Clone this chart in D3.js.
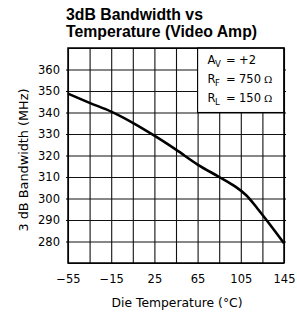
<!DOCTYPE html>
<html lang="en">
<head>
<meta charset="UTF-8" />
<title>3dB Bandwidth vs Temperature</title>
<script src="https://cdnjs.cloudflare.com/ajax/libs/d3/7.6.1/d3.min.js"></script>
<style>
  body { margin: 0; background: #fff; }
  svg { display: block; }
</style>
</head>
<body>
<div id="chart"></div>
<script>
// readings taken off the reference curve
const temps = [-55, -35, -15, 5, 25, 45, 65, 85, 100, 110, 120, 130, 145];
const bandwidth = [348.8, 344.5, 340.4, 335.2, 329.2, 322.7, 315.8, 310, 305.5, 301.5, 295.6, 289.2, 279.2];

const xTickLabels = [-55, -15, 25, 65, 105, 145];
const yTickLabels = [280, 290, 300, 310, 320, 330, 340, 350, 360];
const titleLines = ["3dB Bandwidth vs", "Temperature (Video Amp)"];

const width = 297, height = 312;
const plotL = 68, plotR = 284, plotT = 48, plotB = 263;

const svg = d3.select("#chart").append("svg")
  .attr("width", width)
  .attr("height", height);

const x = d3.scaleLinear().domain([-55, 145]).range([plotL, plotR]);
const y = d3.scaleLinear().domain([270, 370]).range([plotB, plotT]);

// title
svg.append("g").selectAll("text")
  .data(titleLines)
  .join("text")
  .attr("x", 66)
  .attr("y", (d, i) => 19.5 + i * 17)
  .attr("font-family", "Liberation Sans, Arial, sans-serif")
  .attr("font-weight", "bold")
  .attr("font-size", 15.8)
  .attr("fill", "#000")
  .text(d => d);

// grid
const grid = svg.append("g");
grid.append("g")
  .attr("transform", `translate(0,${plotB})`)
  .call(d3.axisBottom(x).tickValues(d3.range(-55, 146, 20)).tickSize(-(plotB - plotT)).tickFormat(""))
  .call(g => g.select(".domain").remove())
  .call(g => g.selectAll("line").attr("stroke", "#111").attr("stroke-width", 1.1));
grid.append("g")
  .attr("transform", `translate(${plotL},0)`)
  .call(d3.axisLeft(y).tickValues(d3.range(270, 371, 10)).tickSize(-(plotR - plotL)).tickFormat(""))
  .call(g => g.select(".domain").remove())
  .call(g => g.selectAll("line").attr("stroke", "#111").attr("stroke-width", 1.1));

// small outside ticks left and right
svg.append("g")
  .attr("transform", `translate(${plotL},0)`)
  .call(d3.axisLeft(y).tickValues(yTickLabels).tickSize(2).tickFormat(""))
  .call(g => g.select(".domain").remove());
svg.append("g")
  .attr("transform", `translate(${plotR},0)`)
  .call(d3.axisRight(y).tickValues(yTickLabels).tickSize(2).tickFormat(""))
  .call(g => g.select(".domain").remove());

// legend box (covers grid in upper right)
svg.append("rect")
  .attr("x", x(65))
  .attr("y", y(370))
  .attr("width", x(145) - x(65))
  .attr("height", y(340) - y(370))
  .attr("fill", "#fff")
  .attr("stroke", "#000")
  .attr("stroke-width", 1.1);

// frame
svg.append("rect")
  .attr("x", plotL)
  .attr("y", plotT)
  .attr("width", plotR - plotL)
  .attr("height", plotB - plotT)
  .attr("fill", "none")
  .attr("stroke", "#000")
  .attr("stroke-width", 1.5);

// curve
svg.append("path")
  .datum(temps.map((t, i) => [t, bandwidth[i]]))
  .attr("fill", "none")
  .attr("stroke", "#000")
  .attr("stroke-width", 2.6)
  .attr("d", d3.line().x(d => x(d[0])).y(d => y(d[1])).curve(d3.curveCatmullRom));

// tick labels
const font = "DejaVu Sans, sans-serif";
svg.append("g")
  .attr("transform", `translate(0,${plotB})`)
  .call(d3.axisBottom(x).tickValues(xTickLabels).tickSize(0).tickPadding(11.5))
  .call(g => g.select(".domain").remove())
  .call(g => g.selectAll("text").attr("font-family", font).attr("font-size", 11.5).attr("fill", "#000"));
svg.append("g")
  .attr("transform", `translate(${plotL},0)`)
  .call(d3.axisLeft(y).tickValues(yTickLabels).tickSize(0).tickPadding(8))
  .call(g => g.select(".domain").remove())
  .call(g => g.selectAll("text").attr("font-family", font).attr("font-size", 11.5).attr("fill", "#000"));

// axis titles
svg.append("text")
  .attr("x", 177)
  .attr("y", 306.5)
  .attr("text-anchor", "middle")
  .attr("font-family", font)
  .attr("font-size", 11.5)
  .attr("textLength", 131)
  .attr("lengthAdjust", "spacingAndGlyphs")
  .text("Die Temperature (°C)");

svg.append("text")
  .attr("transform", "translate(28,160) rotate(-90)")
  .attr("text-anchor", "middle")
  .attr("font-family", font)
  .attr("font-size", 11.5)
  .attr("textLength", 143)
  .attr("lengthAdjust", "spacingAndGlyphs")
  .text("3 dB Bandwidth (MHz)");

// legend text
const legendRows = [
  { main: "A", sub: "V", value: "+2", unit: "" },
  { main: "R", sub: "F", value: "750", unit: "Ω" },
  { main: "R", sub: "L", value: "150", unit: "Ω" }
];
const leg = svg.append("g").attr("font-family", font).attr("font-size", 11.5).attr("fill", "#000");
legendRows.forEach((r, i) => {
  const by = 64.3 + i * 18.7;
  leg.append("text").attr("x", 207.5).attr("y", by).text(r.main);
  leg.append("text").attr("x", 215).attr("y", by + 3).attr("font-size", 8.5).text(r.sub);
  leg.append("text").attr("x", 226).attr("y", by).text("=");
  leg.append("text").attr("x", 239).attr("y", by).text(r.value);
  if (r.unit) leg.append("text").attr("x", 264).attr("y", by)
    .attr("font-family", "DejaVu Serif, serif").attr("font-size", 10).text(r.unit);
});
</script>
</body>
</html>
